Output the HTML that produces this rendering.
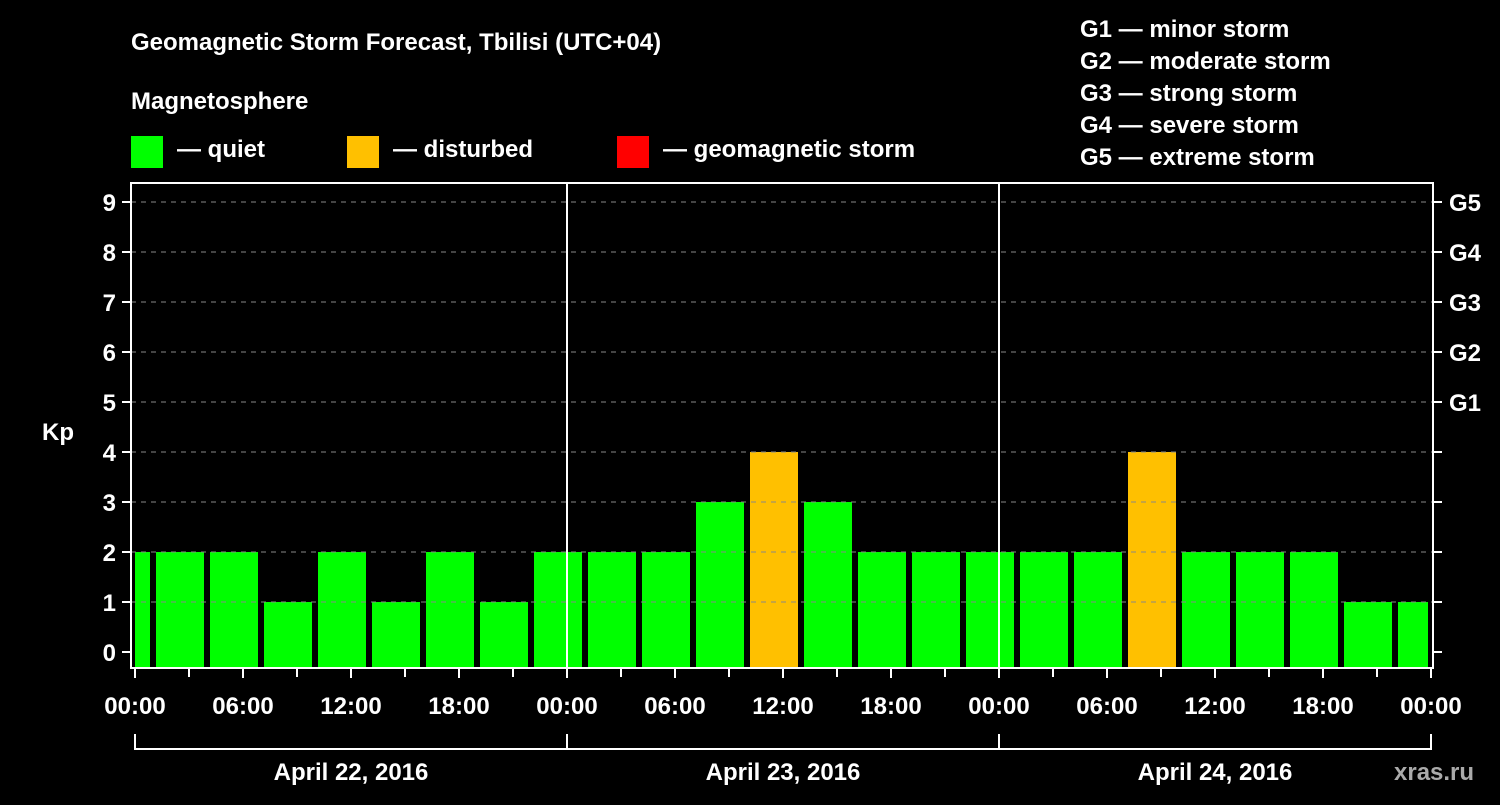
<!DOCTYPE html>
<html><head><meta charset="utf-8"><style>
body{margin:0;background:#000;width:1500px;height:800px;overflow:hidden}
svg text{font-family:"Liberation Sans",Arial,sans-serif;font-weight:bold;fill:#fff}
</style></head><body>
<svg id="c" width="1500" height="800">
<text x="131" y="50" font-size="24">Geomagnetic Storm Forecast, Tbilisi (UTC+04)</text>
<text x="131" y="109" font-size="24">Magnetosphere</text>
<rect x="131" y="136" width="32" height="32" fill="#00ff00"/>
<text x="177" y="157" font-size="24">— quiet</text>
<rect x="347" y="136" width="32" height="32" fill="#ffc000"/>
<text x="393" y="157" font-size="24">— disturbed</text>
<rect x="617" y="136" width="32" height="32" fill="#ff0000"/>
<text x="663" y="157" font-size="24">— geomagnetic storm</text>
<g font-size="24">
<text x="1080" y="37">G1 — minor storm</text>
<text x="1080" y="69">G2 — moderate storm</text>
<text x="1080" y="101">G3 — strong storm</text>
<text x="1080" y="133">G4 — severe storm</text>
<text x="1080" y="165">G5 — extreme storm</text>
</g>
<text x="42" y="440" font-size="24">Kp</text>
<text x="1394" y="780" font-size="24" fill="#aaa" style="fill:#aaa">xras.ru</text>
<g id="bars"></g>
<g id="axes"></g>
</svg>
<script>
const kpValues=[2,2,2,1,2,1,2,1,2,2,2,3,4,3,2,2,2,2,2,4,2,2,2,1,1];
const yTicks=[0,1,2,3,4,5,6,7,8,9];
const gLabels=["G1","G2","G3","G4","G5"];
const hourLabels=["00:00","06:00","12:00","18:00"];
const dayLabels=["April 22, 2016","April 23, 2016","April 24, 2016"];
const firstCenterHour=-0.5, stepHours=3;
const NS="http://www.w3.org/2000/svg";
const L=131,R=1433,T=183,B=668,x0=135,pxH=18;
const X=h=>x0+h*pxH;
const Y=v=>652-v*50;
function mk(tag,a,parent){const e=document.createElementNS(NS,tag);for(const k in a)e.setAttribute(k,a[k]);parent.appendChild(e);return e;}
const bars=document.getElementById('bars'),ax=document.getElementById('axes');
kpValues.forEach((v,i)=>{
 const c=X(firstCenterHour+i*stepHours);
 const a=Math.max(c-24,x0),b=Math.min(c+24,1428);
 const r=mk('rect',{x:a,y:Y(v),width:b-a,height:B-Y(v),fill:v>=5?'#ff0000':(v>=4?'#ffc000':'#00ff00')},bars);
 
 
});
yTicks.forEach(v=>{
 if(v>0){const g=mk('line',{x1:L,x2:R,y1:Y(v),y2:Y(v),stroke:'#888','stroke-dasharray':'5,5','stroke-width':1},ax);
 }
 mk('line',{x1:122,x2:L,y1:Y(v),y2:Y(v),stroke:'#fff','stroke-width':2},ax);
 mk('line',{x1:R,x2:R+9,y1:Y(v),y2:Y(v),stroke:'#fff','stroke-width':2},ax);
 const t=mk('text',{x:116,y:Y(v)+9,'font-size':24,'text-anchor':'end'},ax);t.textContent=v;
 
});
gLabels.forEach((g,i)=>{const t=mk('text',{x:1449,y:Y(5+i)+9,'font-size':24},ax);t.textContent=g;
 });
const frame=mk('rect',{x:L,y:T,width:R-L,height:B-T,fill:'none',stroke:'#fff','stroke-width':2},ax);

for(let d=1;d<dayLabels.length;d++){const l=mk('line',{x1:X(24*d),x2:X(24*d),y1:T,y2:B,stroke:'#fff','stroke-width':2},ax);
 }
for(let h=0;h<=72;h+=3){mk('line',{x1:X(h),x2:X(h),y1:B,y2:B+(h%6==0?10:9),stroke:'#fff','stroke-width':2},ax);}
for(let h=0;h<=72;h+=6){const t=mk('text',{x:X(h),y:714,'font-size':24,'text-anchor':'middle'},ax);
 t.textContent=hourLabels[(h/6)%4];}
mk('path',{d:`M${X(0)} 734V749H${X(72)}V734`,fill:'none',stroke:'#fff','stroke-width':2},ax);
for(let d=1;d<dayLabels.length;d++)mk('line',{x1:X(24*d),x2:X(24*d),y1:734,y2:749,stroke:'#fff','stroke-width':2},ax);
dayLabels.forEach((s,d)=>{const t=mk('text',{x:X(24*d+12),y:780,'font-size':24,'text-anchor':'middle'},ax);t.textContent=s;
 });
</script>
</body></html>
